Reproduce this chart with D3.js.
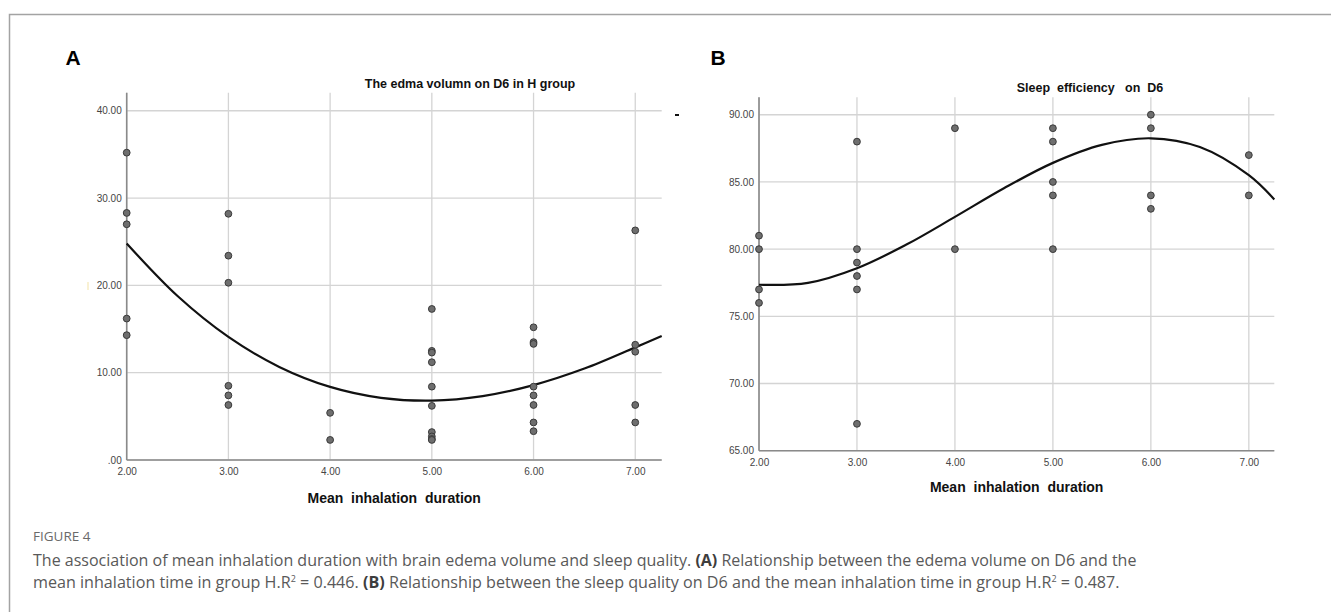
<!DOCTYPE html>
<html>
<head>
<meta charset="utf-8">
<script src="https://cdn.jsdelivr.net/npm/d3@7"></script>
<style>
  body { margin: 0; background: #fff; }
  svg { display: block; }
  text { white-space: pre; }
</style>
</head>
<body>
<div id="chart-area"></div>
<script>
// Figure 4: mean inhalation duration vs edema volume (A) and sleep efficiency (B)
var W = 1331, H = 612;

var xTicks = [2, 3, 4, 5, 6, 7];
var xTickLabels = ['2.00', '3.00', '4.00', '5.00', '6.00', '7.00'];

// panel A - edema volume on D6
var edemaTicks = [0, 10, 20, 30, 40];
var edemaTickLabels = ['.00', '10.00', '20.00', '30.00', '40.00'];
var edemaDuration = [2, 2, 2, 2, 2,
                     3, 3, 3, 3, 3, 3,
                     4, 4,
                     5, 5, 5, 5, 5, 5, 5, 5, 5, 5,
                     6, 6, 6, 6, 6, 6, 6, 6,
                     7, 7, 7, 7, 7];
var edemaVolume = [35.2, 28.3, 27.0, 16.2, 14.3,
                   28.2, 23.4, 20.3, 8.5, 7.4, 6.3,
                   5.4, 2.3,
                   17.3, 12.5, 12.3, 11.2, 8.4, 6.2, 3.2, 2.7, 2.4, 2.3,
                   15.2, 13.5, 13.3, 8.4, 7.4, 6.3, 4.3, 3.3,
                   26.3, 13.2, 12.4, 6.3, 4.3];
// fitted curve
var edemaFitX = [2, 2.5, 3, 3.5, 4, 4.5, 5, 5.5, 6, 6.5, 7, 7.26];
var edemaFitY = [24.8, 18.78, 14.1, 10.66, 8.37, 7.12, 6.8, 7.32, 8.58, 10.47, 12.9, 14.2];

// panel B - sleep efficiency on D6
var sleepTicks = [65, 70, 75, 80, 85, 90];
var sleepTickLabels = ['65.00', '70.00', '75.00', '80.00', '85.00', '90.00'];
var sleepDuration = [2, 2, 2, 2,
                     3, 3, 3, 3, 3, 3,
                     4, 4,
                     5, 5, 5, 5, 5,
                     6, 6, 6, 6,
                     7, 7];
var sleepEfficiency = [81, 80, 77, 76,
                       88, 80, 79, 78, 77, 67,
                       89, 80,
                       89, 88, 85, 84, 80,
                       90, 89, 84, 83,
                       87, 84];
var sleepFitX = [2, 2.5, 3, 3.5, 4, 4.5, 5, 5.5, 6, 6.5, 7, 7.26];
var sleepFitY = [77.35, 77.49, 78.58, 80.32, 82.4, 84.53, 86.42, 87.76, 88.25, 87.6, 85.5, 83.7];

var svg = d3.select('#chart-area').append('svg')
            .attr('width', W)
            .attr('height', H);

// page frame
svg.append('path')
   .attr('d', 'M9.5,' + H + 'V14.5H' + W)
   .attr('fill', 'none')
   .attr('stroke', '#a3a3a3')
   .attr('stroke-width', 1.5);

function drawPanel(p) {
  var x = d3.scaleLinear().domain([2, 7.26]).range([p.left, p.right]);
  var y = d3.scaleLinear().domain(p.yDomain).range([p.bottom, p.top]);
  var g = svg.append('g');

  // grid
  g.selectAll('.hgrid').data(p.yTicks).enter().append('line')
   .attr('x1', p.left).attr('x2', p.right)
   .attr('y1', function(d){ return y(d); }).attr('y2', function(d){ return y(d); })
   .attr('stroke', '#d4d4d4').attr('stroke-width', 1.3);
  g.selectAll('.vgrid').data(xTicks).enter().append('line')
   .attr('x1', function(d){ return x(d); }).attr('x2', function(d){ return x(d); })
   .attr('y1', p.top).attr('y2', p.bottom)
   .attr('stroke', '#d4d4d4').attr('stroke-width', 1.3);

  // axes
  var xAxis = d3.axisBottom(x).tickValues(xTicks).tickSize(0).tickPadding(8)
                .tickFormat(function(d, i){ return xTickLabels[i]; });
  var yAxis = d3.axisLeft(y).tickValues(p.yTicks).tickSize(0).tickPadding(5)
                .tickFormat(function(d, i){ return p.yLabels[i]; });
  var xg = g.append('g').attr('transform', 'translate(0,' + p.bottom + ')').call(xAxis);
  var yg = g.append('g').attr('transform', 'translate(' + p.left + ',0)').call(yAxis);
  [xg, yg].forEach(function(a){
    a.select('.domain').attr('stroke', '#8a8a8a').attr('stroke-width', 1.6);
    a.selectAll('text').attr('font-family', 'Liberation Sans, Arial, sans-serif')
     .attr('font-size', '10px').attr('fill', '#454545');
  });
  xg.select('.domain').attr('d', 'M' + p.left + ',0H' + p.right);
  yg.select('.domain').attr('d', 'M0,' + p.bottom + 'V' + p.top);

  // fit curve
  var line = d3.line()
               .x(function(d){ return x(d[0]); })
               .y(function(d){ return y(d[1]); })
               .curve(d3.curveCatmullRom.alpha(0.5));
  g.append('path')
   .datum(p.fitX.map(function(v, i){ return [v, p.fitY[i]]; }))
   .attr('d', line)
   .attr('fill', 'none')
   .attr('stroke', '#111')
   .attr('stroke-width', 2.2);

  // points
  g.selectAll('circle').data(p.xs).enter().append('circle')
   .attr('cx', function(d){ return x(d); })
   .attr('cy', function(d, i){ return y(p.ys[i]); })
   .attr('r', 3.4)
   .attr('fill', '#6e6e6e')
   .attr('stroke', '#3a3a3a')
   .attr('stroke-width', 1);

  // titles
  g.append('text')
   .attr('x', p.titleX).attr('y', p.titleY)
   .attr('text-anchor', 'middle')
   .attr('font-family', 'Liberation Sans, Arial, sans-serif')
   .attr('font-weight', 'bold').attr('font-size', '12.5px')
   .attr('fill', '#111')
   .text(p.title);
  g.append('text')
   .attr('x', (p.left + p.right) / 2).attr('y', p.xTitleY)
   .attr('text-anchor', 'middle')
   .attr('font-family', 'Liberation Sans, Arial, sans-serif')
   .attr('font-weight', 'bold').attr('font-size', '14px')
   .attr('fill', '#111')
   .text('Mean  inhalation  duration');
  g.append('text')
   .attr('x', p.labelX).attr('y', 65)
   .attr('font-family', 'Liberation Sans, Arial, sans-serif')
   .attr('font-weight', 'bold').attr('font-size', '21px')
   .attr('fill', '#000')
   .text(p.label);
  return g;
}

var gA = drawPanel({
  left: 126.7, right: 661.7, top: 92.7, bottom: 460,
  yDomain: [0, 42.07], yTicks: edemaTicks, yLabels: edemaTickLabels,
  xs: edemaDuration, ys: edemaVolume, fitX: edemaFitX, fitY: edemaFitY,
  title: 'The edma volumn on D6 in H group', titleX: 470, titleY: 88,
  xTitleY: 503, label: 'A', labelX: 65.5
});
// stray legend dash and faint mark in panel A
gA.append('rect').attr('x', 675).attr('y', 114).attr('width', 4).attr('height', 2).attr('fill', '#111');
gA.append('rect').attr('x', 87.5).attr('y', 282).attr('width', 1).attr('height', 8).attr('fill', '#f3e3a8');

drawPanel({
  left: 759, right: 1274.3, top: 97.3, bottom: 450.7,
  yDomain: [65, 91.3], yTicks: sleepTicks, yLabels: sleepTickLabels,
  xs: sleepDuration, ys: sleepEfficiency, fitX: sleepFitX, fitY: sleepFitY,
  title: 'Sleep  efficiency   on  D6', titleX: 1090, titleY: 92,
  xTitleY: 492, label: 'B', labelX: 710.5
});

// caption
var cap = svg.append('g')
             .attr('font-family', 'Open Sans, sans-serif')
             .attr('fill', '#595959');
cap.append('text')
   .attr('x', 33).attr('y', 541)
   .attr('font-size', '13.5px')
   .attr('fill', '#6a6a6a')
   .text('FIGURE 4');

function captionLine(y, parts, target) {
  var t = cap.append('text').attr('x', 33).attr('y', y).attr('font-size', '15px');
  parts.forEach(function(pt){
    var s = t.append('tspan').text(pt.t);
    if (pt.b) s.attr('font-weight', 'bold').attr('fill', '#3d3d3d');
    if (pt.sup) s.attr('font-size', '9px').attr('dy', -6);
    if (pt.after) s.attr('dy', 6);
  });
  var len = t.node().getComputedTextLength();
  t.attr('font-size', (15 * target / len).toFixed(2) + 'px');
}
captionLine(565.5, [
  {t: 'The association of mean inhalation duration with brain edema volume and sleep quality. '},
  {t: '(A)', b: true},
  {t: ' Relationship between the edema volume on D6 and the'}
], 1104);
captionLine(587.5, [
  {t: 'mean inhalation time in group H.R'},
  {t: '2', sup: true},
  {t: ' = 0.446. ', after: true},
  {t: '(B)', b: true},
  {t: ' Relationship between the sleep quality on D6 and the mean inhalation time in group H.R'},
  {t: '2', sup: true},
  {t: ' = 0.487.', after: true}
], 1088);
</script>
</body>
</html>
